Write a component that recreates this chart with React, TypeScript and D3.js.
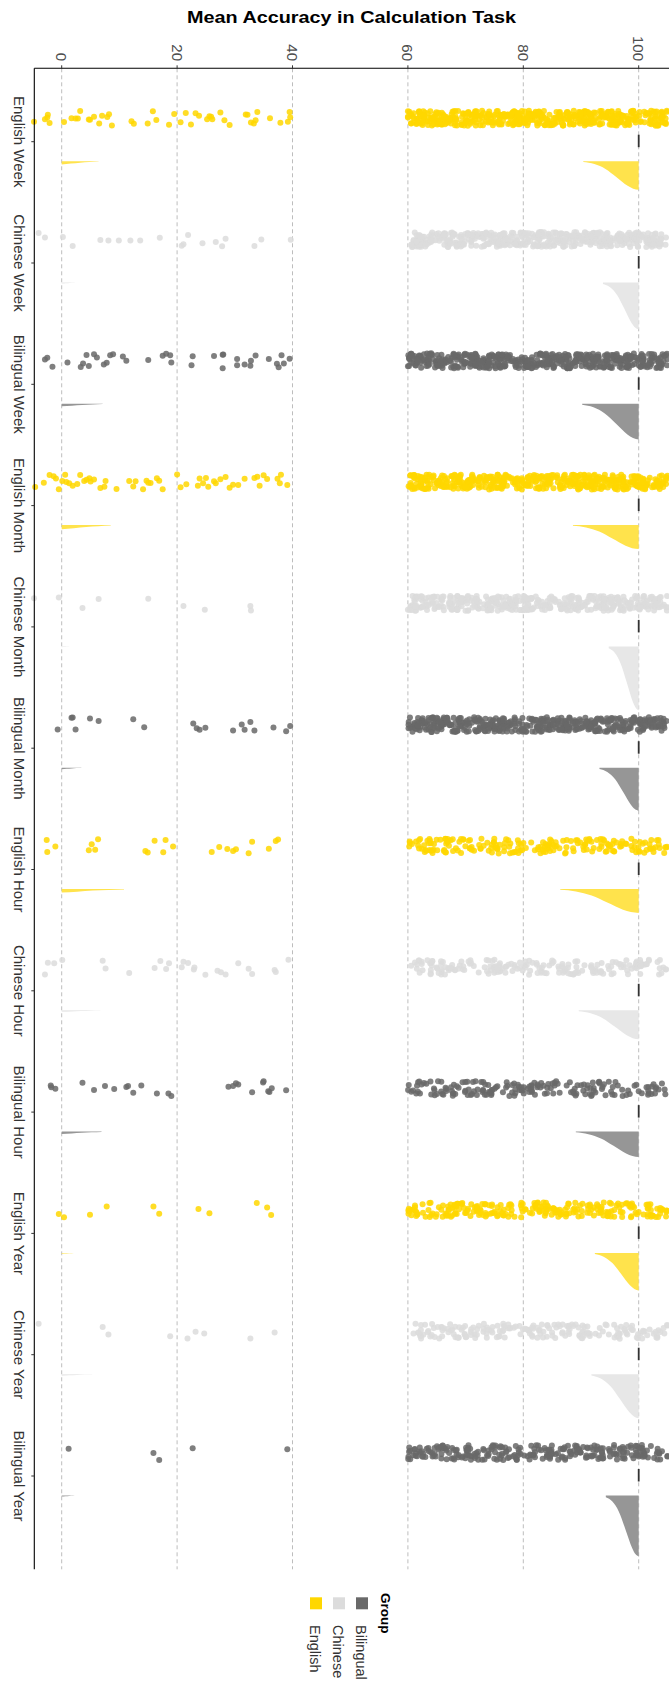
import React from 'react';
import * as d3 from 'd3';

// ---------- data ----------
const CATEGORIES = [
  'English Week', 'Chinese Week', 'Bilingual Week',
  'English Month', 'Chinese Month', 'Bilingual Month',
  'English Hour', 'Chinese Hour', 'Bilingual Hour',
  'English Year', 'Chinese Year', 'Bilingual Year',
];
const GROUP_OF = [
  'English', 'Chinese', 'Bilingual',
  'English', 'Chinese', 'Bilingual',
  'English', 'Chinese', 'Bilingual',
  'English', 'Chinese', 'Bilingual',
];
const LEGEND_GROUPS = ['English', 'Chinese', 'Bilingual'];
const X_TICKS = [0, 20, 40, 60, 80, 100];

// scattered low values (each category)
const SPARSE_VALUES = [
  [-4.8,-2.9,-2.5,-2.4,-2.1,0.4,1.7,2.4,2.8,3.2,4.7,4.9,5.6,6.5,7.0,7.9,8.2,8.7,12.1,12.5,14.9,15.8,16.4,18.6,19.5,20.6,21.5,22.4,23.2,23.8,25.2,25.6,25.9,26.1,27.5,28.2,29.1,31.9,32.2,32.8,33.3,33.6,33.9,36.1,37.9,39.2,39.5,39.6],
  [-4.0,-2.9,0.2,1.9,6.7,8.1,9.9,11.9,13.6,17.0,20.8,21.1,21.9,24.4,26.7,27.8,28.4,33.4,34.6,39.7],
  [-2.9,-2.5,-1.6,1.0,3.3,3.7,4.3,4.7,5.6,6.1,7.3,7.8,8.4,8.9,10.6,11.2,15.0,17.5,18.1,18.8,19.0,22.5,22.7,26.4,27.9,27.9,28.0,30.4,30.4,31.7,32.7,32.8,33.6,35.9,37.3,37.6,38.1,38.5,39.5],
  [-4.6,-3.1,-2.1,-1.4,-1.0,-0.5,0.1,0.6,0.8,1.3,1.9,2.7,3.2,3.9,4.3,4.8,5.0,5.6,6.7,7.4,7.6,9.5,11.7,12.4,12.8,14.1,14.7,15.0,15.4,16.5,16.9,17.5,20.0,20.6,21.6,23.6,23.9,24.5,25.0,25.4,26.4,26.7,27.5,28.4,29.1,29.7,30.6,31.7,33.4,33.9,34.3,35.0,35.6,37.4,37.8,38.0,39.1],
  [-4.8,-0.5,3.6,6.4,15.0,21.1,24.8,32.7,32.8],
  [-0.7,1.7,1.9,2.4,4.9,6.4,12.4,14.3,22.8,23.4,23.9,24.9,29.7,31.2,31.7,32.7,33.4,36.7,38.9,39.6],
  [-2.6,-2.5,-1.1,4.7,5.2,5.8,6.3,14.5,14.9,16.1,17.6,18.0,19.3,26.0,27.3,28.7,29.7,30.2,32.4,33.0,35.9,37.1,37.5],
  [-2.9,-2.4,-1.3,0.1,7.1,7.6,11.7,16.1,17.1,18.1,18.6,20.8,21.1,21.9,22.9,23.0,24.9,27.0,27.6,28.4,30.6,32.4,33.0,36.9,37.1,39.3],
  [-1.9,-1.8,-1.1,3.6,5.6,7.5,9.1,11.2,11.5,12.4,13.8,16.5,18.5,19.0,28.9,29.7,30.2,30.6,33.0,34.9,35.0,35.8,36.0,36.4,38.9],
  [-0.5,0.4,4.9,7.8,15.9,16.9,23.7,25.6,33.8,35.6,36.3],
  [-4.0,7.1,8.1,18.8,21.8,23.2,24.7,32.7,36.9],
  [1.2,15.9,16.9,22.7,39.1],
];

// dense high-value cloud: counts per 5-point bin (bin starts below)
const CLOUD_BIN_STARTS = [60, 65, 70, 75, 80, 85, 90, 95, 100];
const CLOUD_BIN_WIDTH = 5;
const CLOUD_COUNTS = [
  [52,56,54,58,55,53,57,55,50],
  [48,50,46,52,49,47,51,50,45],
  [55,53,57,52,56,54,55,53,50],
  [50,48,52,47,51,49,50,52,46],
  [44,46,42,45,47,43,46,44,42],
  [50,52,48,51,49,53,50,48,46],
  [26,24,20,25,22,18,24,20,22],
  [20,24,18,22,20,24,18,21,20],
  [18,22,26,20,24,16,22,14,16],
  [26,30,28,26,30,27,29,26,28],
  [18,24,22,20,24,22,20,22,18],
  [30,28,32,29,31,30,28,30,26],
];

const MEDIANS = [100,100,100,100,100,100,100,100,100,100,100,100];

// half-violin (density) near 100: lower end of density, peak density
const VIOLIN_HIGH_START = [90.4, 93.8, 90.2, 88.6, 94.8, 93.2, 86.4, 89.6, 89.1, 92.4, 91.8, 94.3];
const VIOLIN_HIGH_PEAK = [0.286, 0.47, 0.356, 0.24, 0.64, 0.43, 0.24, 0.29, 0.254, 0.377, 0.44, 0.61];
// half-violin near 0: upper end of density, peak density
const VIOLIN_LOW_END = [6.4, 2.8, 7.1, 8.5, 2.3, 3.4, 10.8, 6.7, 6.9, 3.4, 5.3, 2.6];
const VIOLIN_LOW_PEAK = [0.032, 0.01, 0.025, 0.042, 0.008, 0.015, 0.035, 0.015, 0.025, 0.008, 0.015, 0.01];
// density profile shapes (relative position along span -> relative density)
const HIGH_PROFILE_POS = [0, 0.2, 0.4, 0.6, 0.8, 0.9, 1];
const HIGH_PROFILE_DEN = [0.03, 0.1, 0.27, 0.56, 0.86, 0.96, 1];
const LOW_PROFILE_POS = [0, 0.25, 0.5, 0.75, 1];
const LOW_PROFILE_DEN = [1, 0.75, 0.45, 0.25, 0.12];

// ---------- styles ----------
const POINT_COLOR = { English: '#FFD700', Chinese: '#DCDCDC', Bilingual: '#696969' };
const VIOLIN_COLOR = { English: '#FFE34C', Chinese: '#E7E7E7', Bilingual: '#969696' };
const FONT = "'Liberation Sans', Arial, Helvetica, sans-serif";

const W = 669;
const H = 1682;
const PANEL_LEFT = 34.3;
const PANEL_TOP = 68.3;
const PANEL_BOTTOM = 1569.3;

// deterministic jitter (layout only, like position_jitter with a fixed seed)
const jitterHash = (n: number, seed: number) => {
  const s = Math.sin(n * 12.9898 + seed * 78.233) * 43758.5453;
  return s - Math.floor(s);
};

export default function App() {
  const x = d3.scaleLinear().domain([0, 100]).range([61.7, 638.7]);
  const yCat = d3.scalePoint<string>().domain(CATEGORIES).range([141.7, 1476]);
  const dens = d3.scaleLinear().domain([0, 1]).range([0, 100]);
  const jitter = d3.scaleLinear().domain([0, 1]).range([-7.5, 7.5]);
  const POINT_OFFSET = -23.5;
  const VIOLIN_OFFSET = 19.5;

  const areaGen = (base: number) =>
    d3.area<{ v: number; d: number }>()
      .x((p) => x(p.v))
      .y0(base)
      .y1((p) => base + dens(p.d))
      .curve(d3.curveMonotoneX);

  const legendX = d3.scalePoint<string>().domain(LEGEND_GROUPS).range([316, 362]);

  return (
    <svg
      width={W}
      height={H}
      viewBox={`0 0 ${W} ${H}`}
      style={{ position: 'absolute', left: 0, top: 0, display: 'block', background: '#fff' }}
      fontFamily={FONT}
    >
      <rect x={0} y={0} width={W} height={H} fill="#fff" />
      {/* title */}
      <text x={187} y={23} fontSize={17} fontWeight="bold" fill="#000" textLength={329} lengthAdjust="spacingAndGlyphs">
        Mean Accuracy in Calculation Task
      </text>

      {/* gridlines */}
      {X_TICKS.map((t) => (
        <line key={'g' + t} x1={x(t)} x2={x(t)} y1={PANEL_TOP} y2={PANEL_BOTTOM}
          stroke="#b5b5b5" strokeWidth={0.9} strokeDasharray="4,3" />
      ))}

      {/* violins */}
      {CATEGORIES.map((c, i) => {
        const base = (yCat(c) as number) + VIOLIN_OFFSET;
        const g = GROUP_OF[i];
        const hs = VIOLIN_HIGH_START[i];
        const hi = HIGH_PROFILE_POS.map((u, k) => ({ v: hs + u * (100 - hs), d: VIOLIN_HIGH_PEAK[i] * HIGH_PROFILE_DEN[k] }));
        const le = VIOLIN_LOW_END[i];
        const lo = LOW_PROFILE_POS.map((u, k) => ({ v: u * le, d: VIOLIN_LOW_PEAK[i] * LOW_PROFILE_DEN[k] }));
        const gen = areaGen(base);
        return (
          <g key={'v' + c}>
            <path d={gen(hi) || ''} fill={VIOLIN_COLOR[g]} />
            <path d={gen(lo) || ''} fill={VIOLIN_COLOR[g]} />
          </g>
        );
      })}

      {/* points */}
      {CATEGORIES.map((c, i) => {
        const cy = (yCat(c) as number) + POINT_OFFSET;
        const g = GROUP_OF[i];
        const pts: { v: number; j: number }[] = [];
        let n = 0;
        SPARSE_VALUES[i].forEach((v) => {
          n += 1;
          pts.push({ v, j: jitterHash(n, i + 1) });
        });
        CLOUD_COUNTS[i].forEach((cnt, b) => {
          for (let k = 0; k < cnt; k++) {
            n += 1;
            const u = jitterHash(n, i + 101);
            const w = jitterHash(n, i + 201);
            pts.push({ v: CLOUD_BIN_STARTS[b] + u * CLOUD_BIN_WIDTH, j: w });
          }
        });
        return (
          <g key={'p' + c} fill={POINT_COLOR[g]} fillOpacity={0.85}>
            {pts.map((p, k) => (
              <circle key={k} cx={x(p.v)} cy={cy + jitter(p.j)} r={3} />
            ))}
          </g>
        );
      })}

      {/* median marks */}
      {CATEGORIES.map((c, i) => {
        const yc = yCat(c) as number;
        return <line key={'m' + c} x1={x(MEDIANS[i])} x2={x(MEDIANS[i])} y1={yc - 7} y2={yc + 5.5} stroke="#333" strokeWidth={1.8} />;
      })}

      {/* axes */}
      <line x1={PANEL_LEFT} x2={W} y1={PANEL_TOP} y2={PANEL_TOP} stroke="#000" strokeWidth={1.1} />
      <line x1={PANEL_LEFT} x2={PANEL_LEFT} y1={PANEL_TOP} y2={PANEL_BOTTOM} stroke="#000" strokeWidth={1.1} />
      {X_TICKS.map((t) => (
        <g key={'t' + t}>
          <line x1={x(t)} x2={x(t)} y1={PANEL_TOP - 3} y2={PANEL_TOP} stroke="#333" strokeWidth={1} />
          <text transform={`translate(${x(t)},61) rotate(90)`} textAnchor="end" dominantBaseline="central"
            fontSize={15} fill="#4d4d4d">{t}</text>
        </g>
      ))}
      {CATEGORIES.map((c) => {
        const yc = yCat(c) as number;
        return (
          <g key={'c' + c}>
            <line x1={PANEL_LEFT - 3} x2={PANEL_LEFT} y1={yc} y2={yc} stroke="#333" strokeWidth={1} />
            <text transform={`translate(19,${yc}) rotate(90)`} textAnchor="middle" dominantBaseline="central"
              fontSize={15} fill="#333">{c}</text>
          </g>
        );
      })}

      {/* legend */}
      <text transform={`translate(385.5,1593) rotate(90)`} textAnchor="start" dominantBaseline="central"
        fontSize={13.5} fontWeight="bold" fill="#000">Group</text>
      {LEGEND_GROUPS.map((g) => {
        const lx = legendX(g) as number;
        return (
          <g key={'l' + g}>
            <rect x={lx - 6} y={1597.3} width={12} height={12} fill={POINT_COLOR[g]} />
            <text transform={`translate(${lx - 1},1625) rotate(90)`} textAnchor="start" dominantBaseline="central"
              fontSize={14.5} fill="#333">{g}</text>
          </g>
        );
      })}
    </svg>
  );
}
